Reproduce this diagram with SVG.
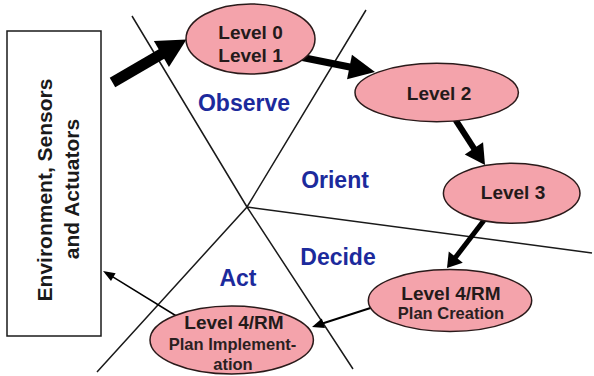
<svg xmlns="http://www.w3.org/2000/svg" width="594" height="376" viewBox="0 0 594 376">
  <style>
    .bg { fill: #ffffff; }
    .divider { fill: none; stroke: #1a1a1a; stroke-width: 1.5; stroke-linejoin: miter; }
    .box { fill: #ffffff; stroke: #1a1a1a; stroke-width: 1.5; }
    .node { fill: #f4a3ab; stroke: #2a1a1a; stroke-width: 1.5; }
    .body { stroke: #000000; stroke-linecap: butt; fill: none; }
    .head { fill: #000000; stroke: none; }
    .lvl { font-family: "Liberation Sans", Arial, sans-serif; font-weight: bold; font-size: 19px; fill: #231a1a; text-anchor: middle; }
    .sub { font-family: "Liberation Sans", Arial, sans-serif; font-weight: bold; font-size: 16.5px; fill: #2a1f1f; text-anchor: middle; }
    .phase { font-family: "Liberation Sans", Arial, sans-serif; font-weight: bold; font-size: 23px; fill: #1c2a9c; text-anchor: middle; }
    .env { font-family: "Liberation Sans", Arial, sans-serif; font-weight: bold; font-size: 21px; fill: #1a1a1a; text-anchor: middle; }
  </style>

  <rect class="bg" x="0" y="0" width="594" height="376"/>

  <!-- OODA quadrant dividers -->
  <g id="dividers">
    <path class="divider" d="M132,16 L247,207 L353,369"/>
    <path class="divider" d="M366,10 L247,207 L97,372"/>
    <path class="divider" d="M247,207 L592,253"/>
  </g>

  <!-- phase labels -->
  <g id="phases">
    <text class="phase" x="244" y="111">Observe</text>
    <text class="phase" x="335" y="188">Orient</text>
    <text class="phase" x="338" y="265">Decide</text>
    <text class="phase" x="238" y="286">Act</text>
  </g>

  <!-- environment box -->
  <g id="environment">
    <rect class="box" x="7" y="31" width="94" height="305"/>
    <text class="env" transform="translate(51.5,190) rotate(-90)">Environment, Sensors</text>
    <text class="env" transform="translate(79,189) rotate(-90)">and Actuators</text>
  </g>

  <!-- connectors -->
  <g id="connectors">
    <line class="body" x1="112.5" y1="82.5" x2="163.2" y2="53.1" stroke-width="11"/>
    <polygon class="head" points="186.5,39.5 168.96,67.04 153.88,41.10"/>

    <line class="body" x1="300" y1="57" x2="351" y2="67.2" stroke-width="7"/>
    <polygon class="head" points="375,72 347.05,79.15 351.95,54.65"/>

    <line class="body" x1="455" y1="119" x2="474.74" y2="149.61" stroke-width="6"/>
    <polygon class="head" points="485,165 464.76,154.46 483.06,142.26"/>

    <line class="body" x1="485" y1="219" x2="454.84" y2="258.26" stroke-width="5"/>
    <polygon class="head" points="447,268 448.77,251.45 462.79,262.73"/>

    <line class="body" x1="372" y1="307.5" x2="322.43" y2="323.53" stroke-width="2"/>
    <polygon class="head" points="312,327 321.80,318.47 324.96,327.95"/>

    <line class="body" x1="178" y1="317" x2="112.44" y2="276.64" stroke-width="1.5"/>
    <polygon class="head" points="103,271 115.61,273.29 110.99,281.01"/>
  </g>

  <!-- fusion level nodes -->
  <g id="level01">
    <ellipse class="node" cx="250.5" cy="39" rx="64.5" ry="35"/>
    <text class="lvl" x="250.5" y="38.5">Level 0</text>
    <text class="lvl" x="250.5" y="61.5">Level 1</text>
  </g>

  <g id="level2">
    <ellipse class="node" cx="436.7" cy="92.5" rx="81.7" ry="29.2"/>
    <text class="lvl" x="439" y="100">Level 2</text>
  </g>

  <g id="level3">
    <ellipse class="node" cx="511.7" cy="193.3" rx="68.3" ry="30"/>
    <text class="lvl" x="513" y="198.5">Level 3</text>
  </g>

  <g id="level4-plan-creation">
    <ellipse class="node" cx="450" cy="300.5" rx="81.7" ry="31"/>
    <text class="lvl" x="451" y="299.5">Level 4/RM</text>
    <text class="sub" x="451" y="318.5">Plan Creation</text>
  </g>

  <g id="level4-plan-implementation">
    <ellipse class="node" cx="231.7" cy="340" rx="81.7" ry="34"/>
    <text class="lvl" x="234" y="328.5">Level 4/RM</text>
    <text class="sub" x="232.5" y="350">Plan Implement-</text>
    <text class="sub" x="233" y="370">ation</text>
  </g>
</svg>
